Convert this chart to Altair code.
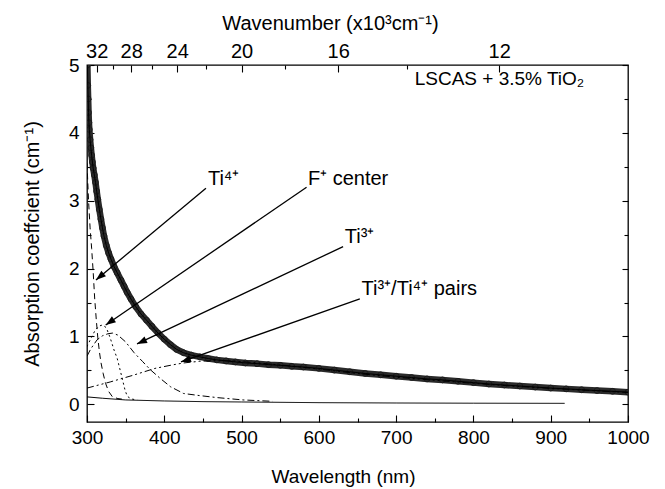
import math
import altair as alt
import pandas as pd

# ---------------- data ----------------
wl_meas = [300.5, 301, 301.5, 302, 302.5, 303, 304, 305, 306, 307, 308, 309.5, 311, 312.5, 314,
           316, 318, 320, 322, 325, 328, 331, 335, 339, 344, 348, 352, 357, 363, 370, 377, 384,
           392, 400, 408, 416, 425, 435, 446, 457, 468, 480, 492, 505, 520, 535, 550, 565, 580,
           600, 620, 640, 660, 680, 700, 720, 740, 760, 780, 800, 820, 840, 860, 880, 900, 920,
           940, 960, 980, 1000]
abs_meas = [5.0, 4.7, 4.5, 4.3, 4.15, 4.05, 3.9, 3.78, 3.67, 3.57, 3.48, 3.38, 3.27, 3.14, 3.02,
            2.87, 2.73, 2.6, 2.48, 2.34, 2.23, 2.14, 2.03, 1.94, 1.83, 1.74, 1.65, 1.55, 1.44,
            1.33, 1.24, 1.15, 1.05, 0.96, 0.88, 0.81, 0.76, 0.725, 0.70, 0.675, 0.655, 0.64,
            0.625, 0.61, 0.60, 0.585, 0.575, 0.56, 0.55, 0.53, 0.505, 0.48, 0.455, 0.435, 0.415,
            0.395, 0.375, 0.36, 0.34, 0.32, 0.30, 0.285, 0.27, 0.255, 0.24, 0.228, 0.215, 0.203,
            0.192, 0.18]

ti4_wl = [300, 302, 304, 306, 308, 310, 312, 314, 316, 318, 321, 324, 328, 333, 340, 350]
ti4_a = [3.55, 3.0, 2.6, 2.3, 1.95, 1.55, 1.25, 0.98, 0.78, 0.62, 0.45, 0.31, 0.19, 0.11, 0.085, 0.07]

fc_wl = [300, 305, 310, 315, 320, 325, 330, 335, 339, 343, 346, 349, 352, 357, 365]
fc_a = [0.85, 0.97, 1.08, 1.15, 1.17, 1.13, 0.98, 0.80, 0.68, 0.50, 0.36, 0.22, 0.12, 0.08, 0.065]

ti3_wl = [300, 305, 313, 320, 327, 333, 340, 350, 361, 372, 382, 395, 408, 425, 445, 468, 502, 540]
ti3_a = [0.71, 0.82, 0.95, 1.01, 1.04, 1.05, 1.02, 0.92, 0.76, 0.63, 0.51, 0.38, 0.26, 0.16, 0.13,
         0.10, 0.065, 0.045]

pair_wl = [300, 330, 360, 388, 410, 425, 446, 468, 490, 520, 560, 600, 650, 700, 750, 800, 850,
           900, 950, 1000]
pair_a = [0.24, 0.33, 0.43, 0.53, 0.58, 0.61, 0.635, 0.645, 0.64, 0.61, 0.57, 0.52, 0.455, 0.40,
          0.355, 0.31, 0.27, 0.235, 0.205, 0.175]

base_wl = [300, 320, 350, 400, 450, 500, 600, 700, 800, 918]
base_a = [0.11, 0.09, 0.065, 0.05, 0.04, 0.035, 0.025, 0.02, 0.017, 0.015]

ann_labels = ["Ti⁴⁺", "F⁺ center", "Ti³⁺", "Ti³⁺/Ti⁴⁺ pairs"]
ann_text_x = [456.5, 585.8, 633.6, 655.2]
ann_text_y = [3.233, 3.233, 2.383, 1.612]
ann_from_x = [453.9, 584.1, 631.4, 653.0]
ann_from_y = [3.184, 3.199, 2.324, 1.553]
ann_to_x = [311.6, 324.2, 364.7, 421.6]
ann_to_y = [1.833, 1.170, 0.890, 0.625]

sample_label = ["LSCAS + 3.5% TiO₂"]
sample_x = [724]
sample_y = [4.706]

wl_ticks = [300, 400, 500, 600, 700, 800, 900, 1000]
wl_minor = [350, 450, 550, 650, 750, 850, 950]
y_ticks = [0, 1, 2, 3, 4, 5]
y_minor = [0.5, 1.5, 2.5, 3.5, 4.5]
wn_major = [32, 28, 24, 20, 16, 12]
wn_minor = [30, 26, 22, 18, 14]

# ---------------- layout ----------------
X_DOM = [300, 1000]
Y_DOM = [-0.26, 5]
W, H = 541, 357
FONT = "Liberation Sans"

xs = alt.Scale(domain=X_DOM, nice=False, zero=False)
ys = alt.Scale(domain=Y_DOM, nice=False, zero=False)

meas_df = pd.DataFrame({"wl": wl_meas, "a": abs_meas})

comp_rows = []
for name, wls, vals in [("Ti4+", ti4_wl, ti4_a), ("F+", fc_wl, fc_a), ("Ti3+", ti3_wl, ti3_a),
                        ("pairs", pair_wl, pair_a), ("base", base_wl, base_a)]:
    for w, v in zip(wls, vals):
        comp_rows.append({"series": name, "wl": w, "a": v})
comp_df = pd.DataFrame(comp_rows)

pxx = W / (X_DOM[1] - X_DOM[0])
pxy = H / (Y_DOM[1] - Y_DOM[0])
angles = []
for sx, sy, tx, ty in zip(ann_from_x, ann_from_y, ann_to_x, ann_to_y):
    dx = (tx - sx) * pxx
    dy = -(ty - sy) * pxy
    angles.append(math.degrees(math.atan2(dx, -dy)) % 360)

ann_df = pd.DataFrame({"label": ann_labels, "lx": ann_text_x, "ly": ann_text_y,
                       "sx": ann_from_x, "sy": ann_from_y, "tx": ann_to_x, "ty": ann_to_y,
                       "angle": angles})
sample_df = pd.DataFrame({"label": sample_label, "x": sample_x, "y": sample_y})


def tick_axis(orient, values, size):
    return alt.Axis(orient=orient, values=values, tickSize={"expr": str(-size)}, labels=False,
                    domain=False, grid=False, title=None)


# ---------------- axes ----------------
ax_bottom_labels = alt.Axis(orient="bottom", values=wl_ticks, ticks=False, domain=False, grid=False,
                            format="d", labelPadding=6, labelFontSize=19, labelFlush=False,
                            title="Wavelength (nm)", titleFontSize=19, titlePadding=20,
                            titleX=256, titleAlign="center")
ax_bottom_major = tick_axis("bottom", wl_ticks, 7)
ax_bottom_minor = tick_axis("bottom", wl_minor, 4)
ax_top_labels = alt.Axis(orient="top", values=[10000 / k for k in wn_major], ticks=False,
                         domain=False, grid=False, labelPadding=4, labelFontSize=20,
                         labelFlush=False, labelExpr="round(10000/datum.value)",
                         title="Wavenumber (x10³cm⁻¹)", titleFontSize=20, titlePadding=8,
                         titleX=243, titleAlign="center")
ax_top_major = tick_axis("top", [10000 / k for k in wn_major], 7)
ax_top_minor = tick_axis("top", [10000 / k for k in wn_minor], 4)

ay_left_labels = alt.Axis(orient="left", values=y_ticks, ticks=False, domain=False, grid=False,
                          labelPadding=8, labelFontSize=19, labelFlush=False,
                          title="Absorption coeffcient (cm⁻¹)", titleFontSize=20, titlePadding=26)
ay_left_major = tick_axis("left", y_ticks, 7)
ay_left_minor = tick_axis("left", y_minor, 4)
ay_right_major = tick_axis("right", y_ticks, 6)
ay_right_minor = tick_axis("right", y_minor, 4)

# ---------------- layers ----------------
band = alt.Chart(meas_df).mark_line(color="#2a2a2a", strokeWidth=6.5, clip=True).encode(
    x=alt.X("wl:Q", scale=xs, axis=ax_bottom_labels),
    y=alt.Y("a:Q", scale=ys, axis=ay_left_labels),
)
circles = alt.Chart(meas_df).mark_point(shape="circle", filled=False, size=34, strokeWidth=1,
                                        color="#1a1a1a", opacity=1, clip=True).encode(
    x=alt.X("wl:Q", scale=xs, axis=ax_bottom_major),
    y=alt.Y("a:Q", scale=ys, axis=ay_left_major),
)
fit = alt.Chart(meas_df).mark_line(color="black", strokeWidth=1, clip=True).encode(
    x=alt.X("wl:Q", scale=xs, axis=ax_bottom_minor),
    y=alt.Y("a:Q", scale=ys, axis=ay_left_minor),
)
comps = alt.Chart(comp_df).mark_line(color="black", strokeWidth=1, clip=True).encode(
    x=alt.X("wl:Q", scale=xs, axis=ax_top_labels),
    y=alt.Y("a:Q", scale=ys, axis=ay_right_major),
    detail="series:N",
    strokeDash=alt.StrokeDash("series:N", legend=None, scale=alt.Scale(
        domain=["Ti4+", "F+", "Ti3+", "pairs", "base"],
        range=[[6, 4], [2, 3], [7, 3, 2, 3], [7, 3, 2, 3, 2, 3], [1, 0]])),
)
arrows = alt.Chart(ann_df).mark_rule(color="black", strokeWidth=1.3).encode(
    x=alt.X("sx:Q", scale=xs, axis=ax_top_major),
    x2="tx:Q",
    y=alt.Y("sy:Q", scale=ys, axis=ay_right_minor),
    y2="ty:Q",
)
heads = alt.Chart(ann_df).mark_point(shape="M0,0L-0.36,1L0.36,1Z", filled=True, size=400,
                                     color="black", opacity=1).encode(
    x=alt.X("tx:Q", scale=xs, axis=ax_top_minor),
    y=alt.Y("ty:Q", scale=ys, axis=None),
    angle=alt.Angle("angle:Q", scale=None),
)
labels = alt.Chart(ann_df).mark_text(align="left", baseline="alphabetic", fontSize=20, font=FONT,
                                     color="black").encode(
    x=alt.X("lx:Q", scale=xs, axis=None),
    y=alt.Y("ly:Q", scale=ys, axis=None),
    text="label:N",
)
sample = alt.Chart(sample_df).mark_text(align="left", baseline="alphabetic", fontSize=19, font=FONT,
                                        color="black").encode(
    x=alt.X("x:Q", scale=xs, axis=None),
    y=alt.Y("y:Q", scale=ys, axis=None),
    text="label:N",
)

chart = alt.layer(band, circles, fit, comps, arrows, heads, labels, sample).resolve_axis(
    x="independent", y="independent"
).properties(
    width=W, height=H,
    autosize=alt.AutoSizeParams(type="none"),
    padding={"left": 79, "top": 57, "right": 29, "bottom": 67},
).configure_view(stroke="black", strokeWidth=1.3).configure_axis(
    labelFont=FONT, titleFont=FONT, labelColor="black", titleColor="black", tickColor="black",
    tickWidth=1.1, titleFontWeight="normal",
)

chart.save("out.html", embed_options={"renderer": "svg", "actions": False})
